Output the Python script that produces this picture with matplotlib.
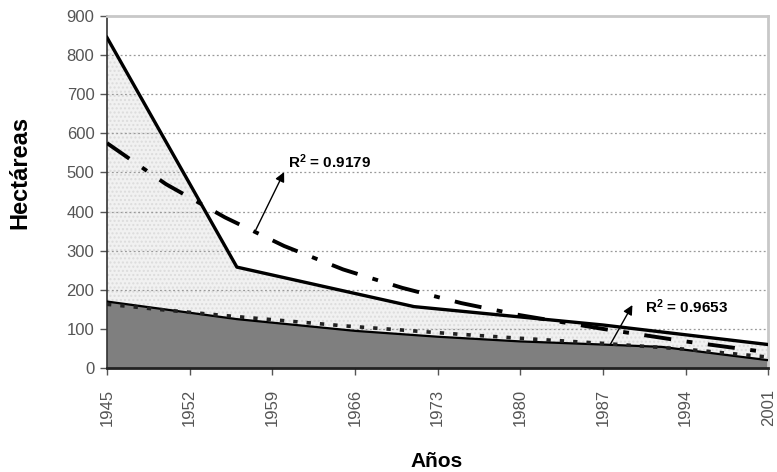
import matplotlib
matplotlib.use('Agg')
import matplotlib.pyplot as plt
import numpy as np

# serie superior (linea continua, area clara)
years_up = [1945, 1956, 1971, 1987, 2001]
area_up = [845, 258, 157, 110, 60]

# serie inferior (area oscura)
years_low = [1945, 1956, 1966, 1973, 1980, 1987, 1992, 2001]
area_low = [170, 125, 95, 80, 68, 60, 54, 20]

# lineas de tendencia
years_tr = [1945, 1950, 1955, 1960, 1965, 1970, 1975, 1980, 1987, 1994, 2001]
trend_up = [575, 470, 385, 312, 252, 205, 166, 135, 100, 68, 40]
trend_low = [163, 148, 134, 121, 108, 97, 86, 76, 63, 48, 28]

xticks = [1945, 1952, 1959, 1966, 1973, 1980, 1987, 1994, 2001]
yticks = [0, 100, 200, 300, 400, 500, 600, 700, 800, 900]

plt.rcParams['font.family'] = ['Liberation Sans', 'DejaVu Sans']
plt.rcParams['mathtext.default'] = 'regular'

fig = plt.figure(figsize=(7.77, 4.72), dpi=100)
ax = fig.add_axes([0.1377, 0.2203, 0.851, 0.7458])

ax.fill_between(years_up, 0, area_up, facecolor='#f1f1f1', edgecolor='#dcdcdc',
                hatch='....', linewidth=0, zorder=1)
ax.fill_between(years_low, 0, area_low, facecolor='#7f7f7f', linewidth=0, zorder=2)

for y in yticks[1:-1]:
    ax.axhline(y, color='#9a9a9a', lw=0.9, ls=(0, (1.5, 2)), zorder=1.5)

ax.plot(years_up, area_up, color='black', lw=2.4, zorder=4)
ax.plot(years_low, area_low, color='black', lw=1.6, zorder=4)
ax.plot(years_tr, trend_up, color='black', lw=2.8, ls=(0, (7, 4, 1.5, 4)), zorder=5)
ax.plot(years_tr, trend_low, color='#222222', lw=2.6, ls=(0, (1.2, 2.5)), zorder=5)

arrow = dict(arrowstyle='-|>', color='black', lw=1, shrinkA=0, shrinkB=0,
             mutation_scale=14)
ax.text(1960.3, 527, 'R$^2$ = 0.9179', fontsize=11, fontweight='bold',
        va='center', ha='left', zorder=6)
ax.annotate('', xy=(1960.0, 501), xytext=(1957.6, 353), arrowprops=arrow, zorder=6)
ax.text(1990.6, 156, 'R$^2$ = 0.9653', fontsize=11, fontweight='bold',
        va='center', ha='left', zorder=6)
ax.annotate('', xy=(1989.5, 161), xytext=(1987.6, 59), arrowprops=arrow, zorder=6)

ax.set_xlim(1945, 2001)
ax.set_ylim(0, 900)
ax.set_xticks(xticks)
ax.set_yticks(yticks)
ax.set_xticklabels([str(x) for x in xticks], rotation=90, fontsize=12, color='#555555')
ax.set_yticklabels([str(y) for y in yticks], fontsize=12, color='#555555')
ax.tick_params(axis='both', direction='out', length=5, width=1, color='#555555', pad=4)
ax.tick_params(axis='x', pad=10)

ax.spines['top'].set_color('#c8c8c8')
ax.spines['top'].set_linewidth(2)
ax.spines['right'].set_color('#c8c8c8')
ax.spines['right'].set_linewidth(2)
ax.spines['left'].set_color('#333333')
ax.spines['left'].set_linewidth(1.2)
ax.spines['bottom'].set_color('#222222')
ax.spines['bottom'].set_linewidth(2)

fig.text(0.025, 0.635, 'Hectáreas', rotation=90, fontsize=17, fontweight='bold',
         ha='center', va='center')
fig.text(0.562, 0.023, 'Años', fontsize=15, fontweight='bold', ha='center', va='center')

plt.savefig('out.png', dpi=100)
